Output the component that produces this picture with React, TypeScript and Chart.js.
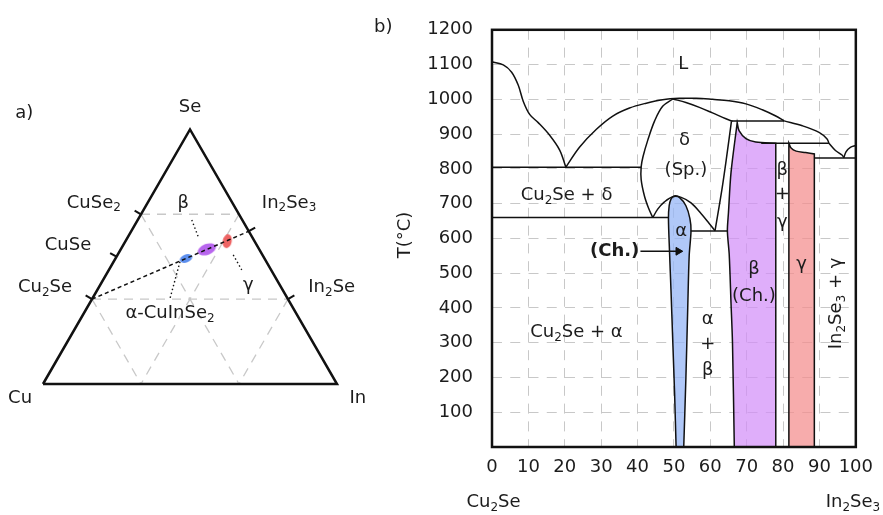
import React, { useEffect, useRef } from "react";
import { Chart, registerables } from "chart.js";

Chart.register(...registerables);

const FONT = '"DejaVu Sans", "Liberation Sans", sans-serif';
const TEXT = "#1c1c1c";
const LINE = "#111";
const GRID = "#c8c8c8";
const FS = 18;

// ---------------- (a) ternary Cu–In–Se, compositions [Cu, In, Se] ----------------
const ternVertices = [[1, 0, 0], [0, 1, 0], [0, 0, 1], [1, 0, 0]];
const ternGridPairs = [
  [[2 / 3, 0, 1 / 3], [0, 2 / 3, 1 / 3]],
  [[1 / 3, 0, 2 / 3], [0, 1 / 3, 2 / 3]],
  [[1 / 3, 0, 2 / 3], [1 / 3, 2 / 3, 0]],
  [[0, 1 / 3, 2 / 3], [2 / 3, 1 / 3, 0]],
  [[2 / 3, 0, 1 / 3], [2 / 3, 1 / 3, 0]],
  [[0, 2 / 3, 1 / 3], [1 / 3, 2 / 3, 0]],
];
const ternLeftCompounds = [[2 / 3, 0, 1 / 3], [1 / 2, 0, 1 / 2], [1 / 3, 0, 2 / 3]]; // Cu2Se, CuSe, CuSe2
const ternRightCompounds = [[0, 2 / 5, 3 / 5], [0, 2 / 3, 1 / 3]]; // In2Se3, In2Se
const ternTieLine = [[2 / 3, 0, 1 / 3], [0, 2 / 5, 3 / 5]];
const ternSpots = [[0.267, 0.24, 0.493], [0.178, 0.293, 0.529], [0.093, 0.346, 0.561]];
const ternSpotColors = ["#5d8fee", "#b866ee", "#ee6464"];
const ternSpotShape = [[6.5, 4, -20], [9.5, 5.5, -20], [4.5, 7, 12]];
const ternLeaders = [
  [[0.506, 0.558], [0.528, 0.501]],
  [[0.647, 0.439], [0.676, 0.388]],
  [[0.466, 0.416], [0.432, 0.291]],
];
const ternLabels = [
  { t: "a)", x: -0.064, y: 0.922 },
  { t: "Se", x: 0.5, y: 0.94 },
  { t: "Cu", x: -0.078, y: -0.048 },
  { t: "In", x: 1.071, y: -0.048 },
  { t: "CuSe_2", x: 0.173, y: 0.616 },
  { t: "CuSe", x: 0.085, y: 0.473 },
  { t: "Cu_2Se", x: 0.007, y: 0.33 },
  { t: "In_2Se_3", x: 0.837, y: 0.616 },
  { t: "In_2Se", x: 0.982, y: 0.33 },
  { t: "β", x: 0.477, y: 0.616 },
  { t: "γ", x: 0.698, y: 0.337 },
  { t: "α-CuInSe_2", x: 0.432, y: 0.241 },
];

// ---------------- (b) pseudo-binary Cu2Se – In2Se3, [mol% In2Se3, T °C] ----------------
const liquidusLeft = [[0, 1108], [3.1, 1099], [5.4, 1078], [7.2, 1041], [8.6, 994], [10.4, 956], [12.7, 933], [15.9, 896], [18.6, 854], [20.3, 805]];
const liquidusRight = [[20.3, 805], [24.1, 863], [28.7, 914], [33.2, 952], [37.8, 975], [42.4, 989], [46.9, 999], [51.5, 1003], [56.1, 1003], [60.6, 1000], [65.2, 996], [69.8, 987], [74.3, 970], [78, 952], [80.3, 938]];
const eutectic805 = [[0, 805], [41, 805]];
const deltaLeft = [[49.7, 1001], [46.9, 980], [44.7, 938], [42.8, 882], [41.5, 835], [41, 806], [41, 769], [41.9, 722], [43.1, 685], [44.2, 660]];
const deltaTop = [[49.7, 1001], [53.3, 991], [57, 977], [60.6, 961], [64.3, 944], [66.1, 937]];
const line660 = [[0, 660], [48.6, 660]];
const alphaDome = [[44.2, 660], [45.6, 685], [47.4, 705], [49.7, 720], [52, 718], [54.7, 702], [57.5, 671], [59.7, 643], [61.3, 622]];
const line621 = [[54.6, 621], [64.8, 621]];
const deltaRight = [[61.3, 622], [63.2, 741], [64.5, 835], [65.8, 936]];
const line938 = [[65.8, 938], [80.3, 938]];
const curveHigh = [[80.3, 938], [85.3, 924], [89.9, 905], [92.1, 886], [92.6, 874]];
const line874 = [[74, 874], [92.6, 874]];
const line831 = [[88.6, 831], [100, 831]];
const liqIn2Se3a = [[92.6, 874], [94.4, 853], [96.2, 840], [96.7, 832]];
const liqIn2Se3b = [[96.7, 832], [97.3, 849], [98.5, 862], [100, 867]];
const alphaPhase = [[50.6, 0], [52.7, 0], [52.7, 0], [53.3, 200], [53.8, 400], [54.2, 550], [54.7, 621], [54.4, 657], [53.3, 694], [51.5, 718], [50.1, 722], [49.2, 713], [48.7, 694], [48.5, 657], [48.8, 560], [49.2, 450], [49.7, 300], [50.2, 150], [50.6, 0]];
const betaPhase = [[66.6, 0], [78, 0], [78, 0], [78, 874], [78, 874], [72.5, 877], [69.8, 887], [67.9, 910], [67.4, 933], [67.4, 933], [65.7, 790], [65, 675], [64.7, 621], [65.2, 554], [65.7, 413], [66.1, 300], [66.6, 0]];
const gammaPhase = [[81.6, 0], [88.6, 0], [88.6, 0], [88.6, 843], [88.6, 843], [86.2, 847], [83.6, 851], [82.2, 860], [81.6, 874], [81.6, 874], [81.6, 0]];
const arrowLine = [[40.8, 563], [50.6, 563]];
const arrowHead = [[51.2, 563]];
const phaseLabels = [
  { t: "L", x: 52.6, y: 1102 },
  { t: "δ", x: 52.9, y: 882 },
  { t: "(Sp.)", x: 53.3, y: 797 },
  { t: "Cu_2Se + δ", x: 20.5, y: 724 },
  { t: "α", x: 52, y: 619 },
  { t: "(Ch.)", x: 33.7, y: 563, bold: true },
  { t: "β", x: 72, y: 511 },
  { t: "(Ch.)", x: 72, y: 432 },
  { t: "γ", x: 85.1, y: 526 },
  { t: "β", x: 79.8, y: 797 },
  { t: "+", x: 79.8, y: 727 },
  { t: "γ", x: 79.8, y: 647 },
  { t: "α", x: 59.3, y: 366 },
  { t: "+", x: 59.3, y: 296 },
  { t: "β", x: 59.3, y: 221 },
  { t: "Cu_2Se + α", x: 23.2, y: 329 },
  { t: "In_2Se_3 + γ", x: 94.6, y: 413, rot: -90 },
  { t: "Cu_2Se", x: 0.4, y: -160 },
  { t: "In_2Se_3", x: 99.2, y: -160 },
  { t: "T(°C)", x: -23.8, y: 610, rot: -90 },
  { t: "b)", x: -29.9, y: 1206 },
];

// ---------------- helpers ----------------
const SQ = Math.sqrt(3) / 2;
const tern = (c: number[]) => ({ x: c[1] + c[2] / 2, y: c[2] * SQ });
const toXY = (pts: number[][]) => pts.map(([x, y]) => ({ x, y }));

function lineDS(data: any[], extra: any = {}) {
  return {
    data,
    showLine: true,
    pointRadius: 0,
    borderColor: LINE,
    borderWidth: 1.5,
    tension: 0,
    fill: false,
    clip: false,
    order: 0,
    ...extra,
  };
}

function drawRich(ctx: CanvasRenderingContext2D, text: string, x: number, y: number, size: number, rot = 0, bold = false) {
  const segs: { s: string; sub: boolean }[] = [];
  for (let i = 0; i < text.length; i++) {
    if (text[i] === "_") {
      segs.push({ s: text[i + 1], sub: true });
      i++;
    } else if (segs.length && !segs[segs.length - 1].sub) {
      segs[segs.length - 1].s += text[i];
    } else {
      segs.push({ s: text[i], sub: false });
    }
  }
  const w = bold ? "bold " : "";
  const mainF = `${w}${size}px ${FONT}`;
  const subF = `${w}${Math.round(size * 0.68)}px ${FONT}`;
  let total = 0;
  const widths = segs.map((sg) => {
    ctx.font = sg.sub ? subF : mainF;
    const m = ctx.measureText(sg.s).width;
    total += m;
    return m;
  });
  ctx.save();
  ctx.translate(x, y);
  ctx.rotate(rot);
  ctx.fillStyle = TEXT;
  ctx.textAlign = "left";
  ctx.textBaseline = "middle";
  let cx = -total / 2;
  segs.forEach((sg, i) => {
    ctx.font = sg.sub ? subF : mainF;
    ctx.fillText(sg.s, cx, sg.sub ? size * 0.3 : 0);
    cx += widths[i];
  });
  ctx.restore();
}

function ellipseCanvas(rx: number, ry: number, rotDeg: number, color: string) {
  const size = Math.ceil(2 * Math.max(rx, ry)) + 4;
  const c = document.createElement("canvas");
  c.width = size;
  c.height = size;
  const g = c.getContext("2d")!;
  g.fillStyle = color;
  g.beginPath();
  g.ellipse(size / 2, size / 2, rx, ry, (rotDeg * Math.PI) / 180, 0, Math.PI * 2);
  g.fill();
  return c;
}

function ternaryConfig(): any {
  const datasets: any[] = [];
  datasets.push(lineDS(ternVertices.map(tern), { borderWidth: 2.5, order: 0 }));
  ternGridPairs.forEach((p) =>
    datasets.push(lineDS(p.map(tern), { borderColor: GRID, borderWidth: 1.3, borderDash: [9, 7], order: 8 }))
  );
  const L = 0.025;
  ternLeftCompounds.forEach((c) => {
    const p = tern(c);
    datasets.push(lineDS([p, { x: p.x - L * SQ, y: p.y + L * 0.5 }], { borderWidth: 2 }));
  });
  ternRightCompounds.forEach((c) => {
    const p = tern(c);
    datasets.push(lineDS([p, { x: p.x + L * SQ, y: p.y + L * 0.5 }], { borderWidth: 2 }));
  });
  datasets.push(lineDS(ternTieLine.map(tern), { borderWidth: 1.5, borderDash: [4, 3], order: 1 }));
  ternLeaders.forEach((p) =>
    datasets.push(lineDS(toXY(p), { borderWidth: 1.4, borderDash: [1.5, 2.5], order: 1 }))
  );
  datasets.push({
    data: ternSpots.map(tern),
    showLine: false,
    pointRadius: 5,
    pointStyle: ternSpots.map((_, i) =>
      ellipseCanvas(ternSpotShape[i][0], ternSpotShape[i][1], ternSpotShape[i][2], ternSpotColors[i])
    ),
    order: 5,
    clip: false,
  });
  const labelPlugin = {
    id: "ternLabels",
    afterDraw(chart: any) {
      const { ctx, scales } = chart;
      ternLabels.forEach((l) =>
        drawRich(ctx, l.t, scales.x.getPixelForValue(l.x), scales.y.getPixelForValue(l.y), FS)
      );
    },
  };
  return {
    type: "scatter",
    data: { datasets },
    options: {
      animation: false,
      responsive: false,
      events: [],
      layout: { padding: { left: 43, right: 43, top: 129.4, bottom: 131 } },
      scales: {
        x: { type: "linear", min: 0, max: 1, display: false },
        y: { type: "linear", min: 0, max: SQ, display: false },
      },
      plugins: { legend: { display: false }, tooltip: { enabled: false } },
    },
    plugins: [labelPlugin],
  };
}

function phaseConfig(): any {
  const fillDS = (pts: number[][], color: string) =>
    lineDS(toXY(pts), { fill: "shape", backgroundColor: color, tension: 0.3, order: 10, clip: false });
  const curve = (pts: number[][]) => lineDS(toXY(pts), { tension: 0.35 });
  const straight = (pts: number[][]) => lineDS(toXY(pts));
  const datasets: any[] = [
    fillDS(alphaPhase, "rgba(150,182,245,0.75)"),
    fillDS(betaPhase, "rgba(210,140,248,0.7)"),
    fillDS(gammaPhase, "rgba(244,140,140,0.72)"),
    curve(liquidusLeft),
    curve(liquidusRight),
    straight(eutectic805),
    curve(deltaLeft),
    curve(deltaTop),
    straight(line660),
    curve(alphaDome),
    straight(line621),
    curve(deltaRight),
    straight(line938),
    curve(curveHigh),
    straight(line874),
    straight(line831),
    curve(liqIn2Se3a),
    curve(liqIn2Se3b),
    straight(arrowLine),
    {
      data: toXY(arrowHead),
      showLine: false,
      pointStyle: "triangle",
      pointRadius: 4.5,
      rotation: 90,
      backgroundColor: LINE,
      borderColor: LINE,
      borderWidth: 1,
      order: 0,
    },
  ];
  const tickFont = { family: FONT, size: FS };
  const framePlugin = {
    id: "frame",
    afterDatasetsDraw(chart: any) {
      const { ctx, chartArea: a } = chart;
      ctx.save();
      ctx.strokeStyle = LINE;
      ctx.lineWidth = 2.5;
      ctx.strokeRect(a.left, a.top, a.right - a.left, a.bottom - a.top);
      ctx.restore();
    },
    afterDraw(chart: any) {
      const { ctx, scales } = chart;
      phaseLabels.forEach((l: any) =>
        drawRich(
          ctx,
          l.t,
          scales.x.getPixelForValue(l.x),
          scales.y.getPixelForValue(l.y),
          FS,
          ((l.rot || 0) * Math.PI) / 180,
          !!l.bold
        )
      );
    },
  };
  return {
    type: "scatter",
    data: { datasets },
    options: {
      animation: false,
      responsive: false,
      events: [],
      layout: { padding: { left: 0, right: 26, top: 20, bottom: 0 } },
      scales: {
        x: {
          type: "linear",
          min: 0,
          max: 100,
          afterFit: (s: any) => {
            s.height = 68;
          },
          ticks: { stepSize: 10, autoSkip: false, maxRotation: 0, padding: 10, color: TEXT, font: tickFont },
          grid: { color: GRID, lineWidth: 1, drawTicks: false },
          border: { display: false, dash: [10, 7.8] },
        },
        y: {
          type: "linear",
          min: 0,
          max: 1200,
          afterFit: (s: any) => {
            s.width = 132;
          },
          ticks: {
            stepSize: 100,
            padding: 19,
            color: TEXT,
            font: tickFont,
            callback: (v: any) => (v === 0 ? "" : String(v)),
          },
          grid: { color: GRID, lineWidth: 1, drawTicks: false },
          border: { display: false, dash: [10, 8.25] },
        },
      },
      plugins: { legend: { display: false }, tooltip: { enabled: false } },
    },
    plugins: [framePlugin],
  };
}

export default function App() {
  const leftRef = useRef<HTMLCanvasElement>(null);
  const rightRef = useRef<HTMLCanvasElement>(null);
  useEffect(() => {
    const c1 = new Chart(leftRef.current!, ternaryConfig());
    const c2 = new Chart(rightRef.current!, phaseConfig());
    return () => {
      c1.destroy();
      c2.destroy();
    };
  }, []);
  return (
    <div style={{ position: "absolute", left: 0, top: 0, width: 883, height: 515, background: "#fff" }}>
      <canvas ref={leftRef} width={380} height={515} style={{ position: "absolute", left: 0, top: 0 }} />
      <canvas ref={rightRef} width={523} height={515} style={{ position: "absolute", left: 360, top: 0 }} />
    </div>
  );
}
